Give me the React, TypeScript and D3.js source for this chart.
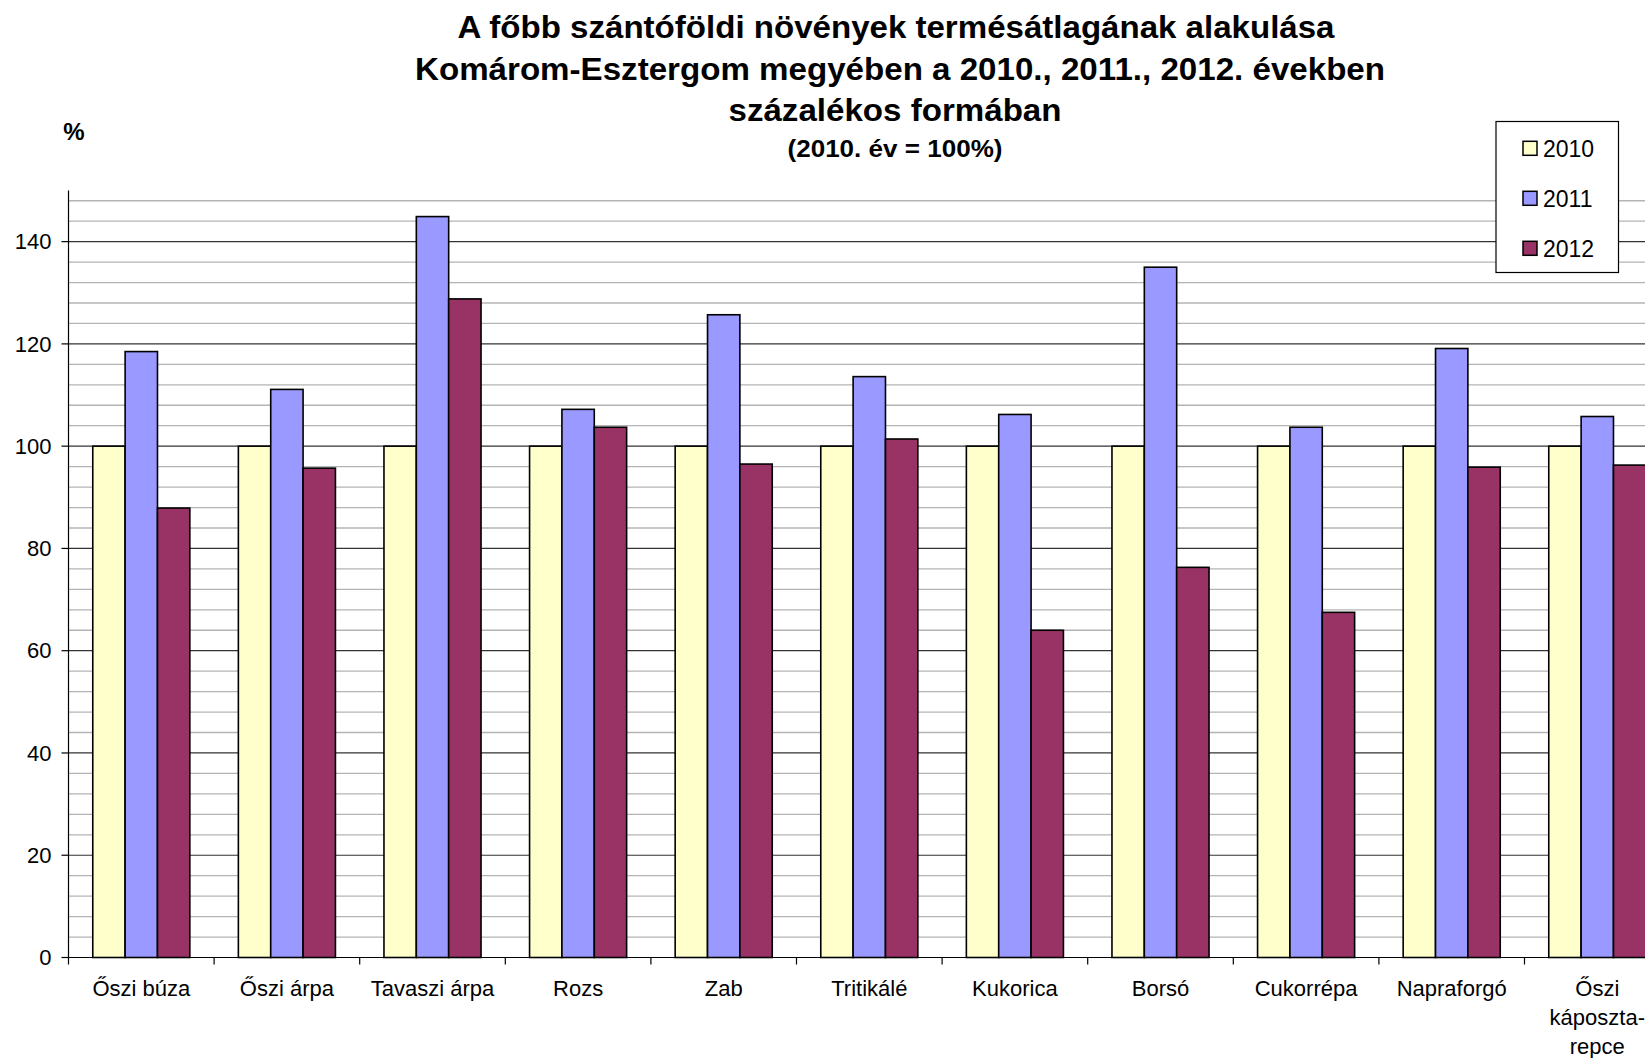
import React from "react";
import * as d3 from "d3";

const categories = [
  "Őszi búza",
  "Őszi árpa",
  "Tavaszi árpa",
  "Rozs",
  "Zab",
  "Tritikálé",
  "Kukorica",
  "Borsó",
  "Cukorrépa",
  "Napraforgó",
  "Őszi káposzta-repce",
];
const categoryLines: string[][] = [
  ["Őszi búza"],
  ["Őszi árpa"],
  ["Tavaszi árpa"],
  ["Rozs"],
  ["Zab"],
  ["Tritikálé"],
  ["Kukorica"],
  ["Borsó"],
  ["Cukorrépa"],
  ["Napraforgó"],
  ["Őszi", "káposzta-", "repce"],
];
const seriesNames = ["2010", "2011", "2012"];
const values2010 = [100, 100, 100, 100, 100, 100, 100, 100, 100, 100, 100];
const values2011 = [118.5, 111.1, 144.9, 107.2, 125.7, 113.6, 106.2, 135.0, 103.7, 119.1, 105.8];
const values2012 = [87.9, 95.7, 128.8, 103.7, 96.5, 101.4, 64.0, 76.3, 67.5, 95.9, 96.3];
const seriesColors = ["#FFFFCC", "#9999FF", "#993366"];
const yTicks = [0, 20, 40, 60, 80, 100, 120, 140];
const titleLines = [
  "A főbb szántóföldi növények termésátlagának alakulása",
  "Komárom-Esztergom megyében a 2010., 2011., 2012. években",
  "százalékos formában",
];
const subtitle = "(2010. év = 100%)";

const W = 1645;
const H = 1058;
const FONT = "'Liberation Sans', Arial, Helvetica, sans-serif";

export default function App() {
  const x0 = 68.5;
  const step = 145.6;
  const x = d3
    .scaleBand<string>()
    .domain(categories)
    .range([x0, x0 + step * categories.length])
    .paddingInner(1 / 3)
    .paddingOuter(1 / 6);
  const xs = d3.scaleBand<string>().domain(seriesNames).range([0, x.bandwidth()]);
  const y = d3.scaleLinear().domain([0, 150]).range([957.5, 190.5]);
  const allSeries = [values2010, values2011, values2012];
  const minorTicks = d3.range(4, 150, 4).filter((v) => v % 20 !== 0);
  const boundaries = d3.range(0, categories.length + 1).map((i) => x0 + i * x.step());
  const titleWidths = [877, 970, 333];
  const titleCenters = [896, 900, 895];

  return (
    <svg
      width={W}
      height={H}
      style={{ position: "absolute", left: 0, top: 0, display: "block", background: "#fff" }}
      fontFamily={FONT}
    >
      <rect x={0} y={0} width={W} height={H} fill="#fff" />
      {/* grid */}
      {minorTicks.map((t) => (
        <line key={"m" + t} x1={x0} x2={W} y1={y(t)} y2={y(t)} stroke="#b4b4b4" strokeWidth={1.3} />
      ))}
      {yTicks.filter((t) => t > 0).map((t) => (
        <line key={"M" + t} x1={x0} x2={W} y1={y(t)} y2={y(t)} stroke="#333" strokeWidth={1.2} />
      ))}
      {/* bars */}
      {categories.map((c, i) => (
        <g key={c} transform={`translate(${x(c)},0)`}>
          {seriesNames.map((s, j) => (
            <rect
              key={s}
              x={xs(s)}
              y={y(allSeries[j][i])}
              width={xs.bandwidth()}
              height={y(0) - y(allSeries[j][i])}
              fill={seriesColors[j]}
              stroke="#000"
              strokeWidth={1.6}
            />
          ))}
        </g>
      ))}
      {/* axes */}
      <line x1={x0} x2={x0} y1={y(150)} y2={y(0)} stroke="#000" strokeWidth={1.2} />
      <line x1={x0} x2={W} y1={y(0)} y2={y(0)} stroke="#000" strokeWidth={1.2} />
      {yTicks.map((t) => (
        <g key={"yt" + t}>
          <line x1={x0 - 7} x2={x0} y1={y(t)} y2={y(t)} stroke="#000" strokeWidth={1.2} />
          <text x={x0 - 17} y={y(t)} dy="0.35em" textAnchor="end" fontSize={22} fill="#000">
            {t}
          </text>
        </g>
      ))}
      {boundaries.map((b, i) => (
        <line key={"xt" + i} x1={b} x2={b} y1={y(0)} y2={y(0) + 7} stroke="#000" strokeWidth={1.2} />
      ))}
      {categories.map((c, i) => (
        <text
          key={"xl" + c}
          x={(x(c) as number) + x.bandwidth() / 2}
          y={996}
          textAnchor="middle"
          fontSize={22}
          fill="#000"
        >
          {categoryLines[i].map((ln, k) => (
            <tspan key={k} x={(x(c) as number) + x.bandwidth() / 2} dy={k === 0 ? 0 : 29}>
              {ln}
            </tspan>
          ))}
        </text>
      ))}
      {/* titles */}
      {titleLines.map((t, i) => (
        <text
          key={"t" + i}
          x={titleCenters[i]}
          y={38 + i * 41.5}
          textAnchor="middle"
          fontSize={32}
          fontWeight="bold"
          fill="#000"
          textLength={titleWidths[i]}
          lengthAdjust="spacingAndGlyphs"
        >
          {t}
        </text>
      ))}
      <text
        x={895}
        y={157}
        textAnchor="middle"
        fontSize={24}
        fontWeight="bold"
        fill="#000"
        textLength={215}
        lengthAdjust="spacingAndGlyphs"
      >
        {subtitle}
      </text>
      <text x={74} y={140} textAnchor="middle" fontSize={24} fontWeight="bold" fill="#000">
        %
      </text>
      {/* legend */}
      <rect x={1496} y={121.5} width={122.5} height={151} fill="#fff" stroke="#000" strokeWidth={1.2} />
      {seriesNames.map((s, j) => (
        <g key={"lg" + s} transform={`translate(1523,${148.3 + j * 50})`}>
          <rect x={0} y={-7} width={14} height={14} fill={seriesColors[j]} stroke="#000" strokeWidth={1.5} />
          <text x={20} y={0} dy="0.36em" fontSize={23} fill="#000">
            {s}
          </text>
        </g>
      ))}
    </svg>
  );
}
